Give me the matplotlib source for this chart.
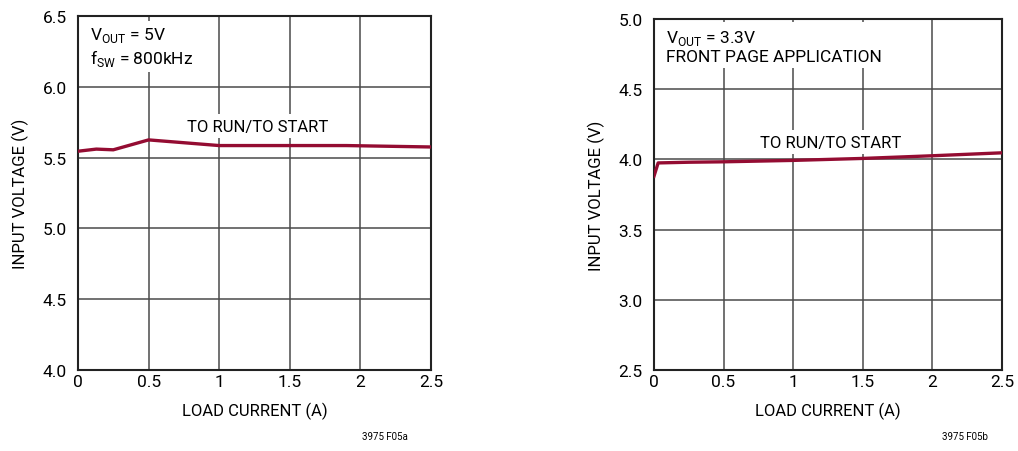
import matplotlib
matplotlib.use('Agg')
from matplotlib import pyplot as plt

plt.rcParams['font.family'] = ['Roboto', 'DejaVu Sans']
plt.rcParams['mathtext.fontset'] = 'custom'
plt.rcParams['mathtext.rm'] = 'Roboto'

# left chart: VOUT = 5V
load_a = [0, 0.13, 0.25, 0.5, 1.0, 1.5, 1.9, 2.5]
vin_a = [5.545, 5.56, 5.555, 5.625, 5.585, 5.585, 5.585, 5.575]

# right chart: VOUT = 3.3V
load_b = [0, 0.03, 0.25, 0.5, 1.0, 1.5, 2.0, 2.5]
vin_b = [3.88, 3.975, 3.98, 3.983, 3.993, 4.007, 4.026, 4.047]

xticks = [0, 0.5, 1, 1.5, 2, 2.5]
xtick_labels = ['0', '0.5', '1', '1.5', '2', '2.5']
yticks_a = [4.0, 4.5, 5.0, 5.5, 6.0, 6.5]
yticks_b = [2.5, 3.0, 3.5, 4.0, 4.5, 5.0]

LINE = '#940c32'
GRID = '#4a4a4a'

fig = plt.figure(figsize=(10.18, 4.52), dpi=100)
ax1 = fig.add_axes([0.0766, 0.1792, 0.3468, 0.7832])
ax2 = fig.add_axes([0.6424, 0.1792, 0.3418, 0.7765])


def style(ax, yticks):
    ax.set_xlim(0, 2.5)
    ax.set_ylim(yticks[0], yticks[-1])
    ax.set_xticks(xticks)
    ax.set_xticklabels(xtick_labels)
    ax.set_yticks(yticks)
    ax.set_yticklabels(['%.1f' % v for v in yticks])
    ax.tick_params(length=0, labelsize=12.5)
    ax.tick_params(axis='x', pad=3)
    ax.tick_params(axis='y', pad=8)
    ax.grid(True, color=GRID, linewidth=1.1)
    ax.set_axisbelow(True)
    for s in ax.spines.values():
        s.set_color('#222222')
        s.set_linewidth(1.5)
    ax.set_xlabel('LOAD CURRENT (A)', fontsize=12, labelpad=9)
    ax.set_ylabel('INPUT VOLTAGE (V)', fontsize=12, labelpad=10)


style(ax1, yticks_a)
style(ax2, yticks_b)

ax1.plot(load_a, vin_a, color=LINE, linewidth=2.4, zorder=3)
ax2.plot(load_b, vin_b, color=LINE, linewidth=2.4, zorder=3)

box = dict(facecolor='white', edgecolor='none', pad=3)
ax1.text(0.035, 0.975, 'V$_{\\mathregular{OUT}}$ = 5V\nf$_{\\mathregular{SW}}$ = 800kHz',
         transform=ax1.transAxes, fontsize=12.5, va='top', ha='left',
         linespacing=1.2, bbox=box, zorder=2)
ax1.text(1.27, 5.67, 'TO RUN/TO START', fontsize=12, ha='center', va='bottom',
         bbox=box, zorder=2)

ax2.text(0.035, 0.975, 'V$_{\\mathregular{OUT}}$ = 3.3V\nFRONT PAGE APPLICATION',
         transform=ax2.transAxes, fontsize=12.5, va='top', ha='left',
         linespacing=1.2, bbox=box, zorder=2)
ax2.text(1.27, 4.07, 'TO RUN/TO START', fontsize=12, ha='center', va='bottom',
         bbox=box, zorder=2)

fig.text(0.378, 0.027, '3975 F05a', fontsize=7, ha='center')
fig.text(0.948, 0.027, '3975 F05b', fontsize=7, ha='center')

fig.savefig('out.png', dpi=100)
